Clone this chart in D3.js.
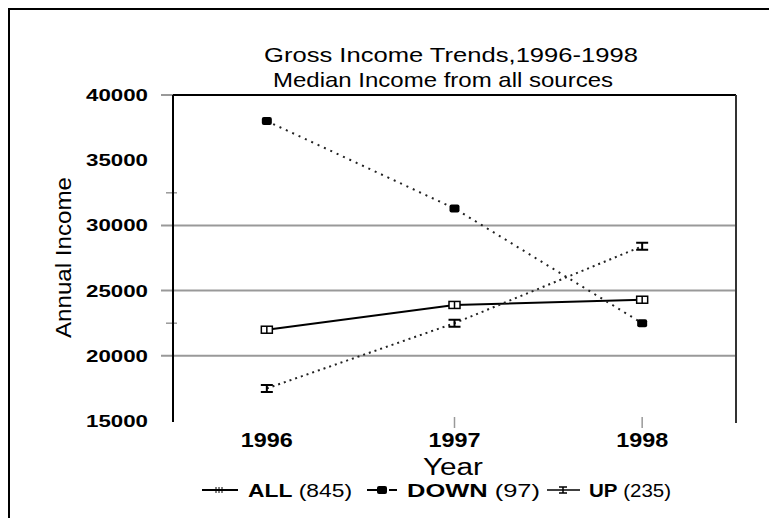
<!DOCTYPE html>
<html lang="en">
<head>
<meta charset="utf-8">
<script src="https://cdn.jsdelivr.net/npm/d3@7"></script>
<style>
  body { margin: 0; background: #fff; }
  text { font-family: "Liberation Sans", Arial, sans-serif; fill: #000; }
</style>
</head>
<body>
<div id="chart"></div>
<script>
// data
var years = ["1996", "1997", "1998"];
var allIncome = [22000, 23900, 24300];
var downIncome = [38000, 31300, 22500];
var upIncome = [17500, 22500, 28400];
var seriesNames = ["ALL (845)", "DOWN (97)", "UP (235)"];
var yTicks = [15000, 20000, 25000, 30000, 35000, 40000];
var gridTicks = [20000, 25000, 30000];
var minorTicks = [22500, 32500];

var width = 769, height = 518;
var plotL = 173, plotR = 736, plotT = 95, plotB = 421;

var svg = d3.select("#chart").append("svg")
    .attr("width", width)
    .attr("height", height);

// the original uses a wide bitmap-ish font, so texts get stretched with textLength
function wideText(sel, len) {
  return sel.attr("textLength", len).attr("lengthAdjust", "spacingAndGlyphs");
}

// outer frame (only left + top visible)
svg.append("path")
    .attr("d", "M9,518 V9 H769")
    .attr("fill", "none")
    .attr("stroke", "#000")
    .attr("stroke-width", 2);

var x = d3.scalePoint().domain(years).range([plotL, plotR]).padding(0.5);
var y = d3.scaleLinear().domain([15000, 40000]).range([plotB, plotT]);

// titles
wideText(svg.append("text").attr("x", 264).attr("y", 62), 374)
    .style("font-size", "21px").text("Gross Income Trends,1996-1998");
wideText(svg.append("text").attr("x", 273).attr("y", 87), 340)
    .style("font-size", "21px").text("Median Income from all sources");

// gridlines
svg.selectAll(".grid").data(gridTicks).enter().append("line")
    .attr("x1", plotL - 12).attr("x2", plotR)
    .attr("y1", d => y(d)).attr("y2", d => y(d))
    .attr("stroke", "#999").attr("stroke-width", 2);

// tick at top
svg.append("line").attr("x1", plotL - 12).attr("x2", plotL)
    .attr("y1", y(40000)).attr("y2", y(40000))
    .attr("stroke", "#999").attr("stroke-width", 2);

// minor ticks
svg.selectAll(".minor").data(minorTicks).enter().append("line")
    .attr("x1", plotL - 7).attr("x2", plotL + 4)
    .attr("y1", d => y(d)).attr("y2", d => y(d))
    .attr("stroke", "#999").attr("stroke-width", 1.5);

// plot frame: top, right, left axis
svg.append("line").attr("x1", plotL).attr("x2", plotR).attr("y1", plotT).attr("y2", plotT)
    .attr("stroke", "#000").attr("stroke-width", 2);
svg.append("line").attr("x1", plotR).attr("x2", plotR).attr("y1", plotT).attr("y2", plotB + 2)
    .attr("stroke", "#333").attr("stroke-width", 2);
svg.append("line").attr("x1", plotL).attr("x2", plotL).attr("y1", plotT).attr("y2", plotB + 1)
    .attr("stroke", "#000").attr("stroke-width", 2);

// y labels
wideText(svg.selectAll(".ylab").data(yTicks).enter().append("text")
    .attr("x", 86).attr("y", d => y(d) + 6), 62)
    .style("font-size", "17px").style("font-weight", "bold")
    .text(d => d);

// x ticks (1997 and 1998 only)
svg.selectAll(".xtick").data(years.slice(1)).enter().append("line")
    .attr("x1", d => x(d)).attr("x2", d => x(d))
    .attr("y1", 417).attr("y2", 428)
    .attr("stroke", "#999").attr("stroke-width", 1.5);

wideText(svg.selectAll(".xlab").data(years).enter().append("text")
    .attr("x", d => x(d) - 26).attr("y", 447), 52)
    .style("font-size", "20px").style("font-weight", "bold")
    .text(d => d);

wideText(svg.append("text").attr("x", 423).attr("y", 475), 60)
    .style("font-size", "23px").text("Year");

wideText(svg.append("text")
    .attr("transform", "translate(71,338) rotate(-90)"), 161)
    .style("font-size", "22px").text("Annual Income");

// lines
var line = d3.line().x((d, i) => x(years[i])).y(d => y(d));

svg.append("path").datum(allIncome).attr("d", line)
    .attr("fill", "none").attr("stroke", "#000").attr("stroke-width", 2);
svg.append("path").datum(downIncome).attr("d", line)
    .attr("fill", "none").attr("stroke", "#222").attr("stroke-width", 2)
    .attr("stroke-dasharray", "2,5");
svg.append("path").datum(upIncome).attr("d", line)
    .attr("fill", "none").attr("stroke", "#222").attr("stroke-width", 2)
    .attr("stroke-dasharray", "2,4");

// markers
function allMarker(g) {
  g.append("rect").attr("x", -5.5).attr("y", -3.5).attr("width", 11).attr("height", 7)
    .attr("fill", "#fff").attr("stroke", "#000").attr("stroke-width", 1.5);
  g.append("line").attr("x1", 0).attr("x2", 0).attr("y1", -3.5).attr("y2", 3.5)
    .attr("stroke", "#000").attr("stroke-width", 1.5);
}
function downMarker(g) {
  g.append("rect").attr("x", -5).attr("y", -4).attr("width", 10).attr("height", 8)
    .attr("rx", 2).attr("fill", "#000");
}
function upMarker(g) {
  g.append("path").attr("d", "M-6,-3.5H6M-6,3.5H6M0,-3.5V3.5")
    .attr("fill", "none").attr("stroke", "#000").attr("stroke-width", 2);
}

function drawMarkers(vals, fn) {
  svg.selectAll(null).data(vals).enter().append("g")
    .attr("transform", (d, i) => "translate(" + x(years[i]) + "," + y(d) + ")")
    .each(function() { fn(d3.select(this)); });
}
drawMarkers(allIncome, allMarker);
drawMarkers(downIncome, downMarker);
drawMarkers(upIncome, upMarker);

// legend
var leg = svg.append("g").attr("transform", "translate(0,490)");
// ALL
leg.append("line").attr("x1", 202).attr("x2", 238).attr("y1", 0).attr("y2", 0)
    .attr("stroke", "#000").attr("stroke-width", 2);
[216, 219, 222].forEach(function(px) {
  leg.append("line").attr("x1", px).attr("x2", px).attr("y1", -3).attr("y2", 3)
    .attr("stroke", "#000").attr("stroke-width", 1);
});
// DOWN
leg.append("line").attr("x1", 367).attr("x2", 382).attr("y1", 0).attr("y2", 0)
    .attr("stroke", "#000").attr("stroke-width", 2);
leg.append("line").attr("x1", 389).attr("x2", 397).attr("y1", 0).attr("y2", 0)
    .attr("stroke", "#000").attr("stroke-width", 2);
downMarker(leg.append("g").attr("transform", "translate(382,0)"));
// UP
leg.append("line").attr("x1", 547).attr("x2", 580).attr("y1", 0).attr("y2", 0)
    .attr("stroke", "#000").attr("stroke-width", 1.5);
leg.append("path").attr("d", "M559,-3H567M559,3H567M563,-3V3")
    .attr("fill", "none").attr("stroke", "#000").attr("stroke-width", 1.5);

var legX = [248, 407, 589];
var legW = [104, 133, 82];
seriesNames.forEach(function(name, i) {
  var parts = name.split(" ");
  var t = wideText(leg.append("text").attr("x", legX[i]).attr("y", 7), legW[i])
      .style("font-size", "19px");
  t.append("tspan").style("font-weight", "bold").text(parts[0]);
  t.append("tspan").text(" " + parts[1]);
});
</script>
</body>
</html>
